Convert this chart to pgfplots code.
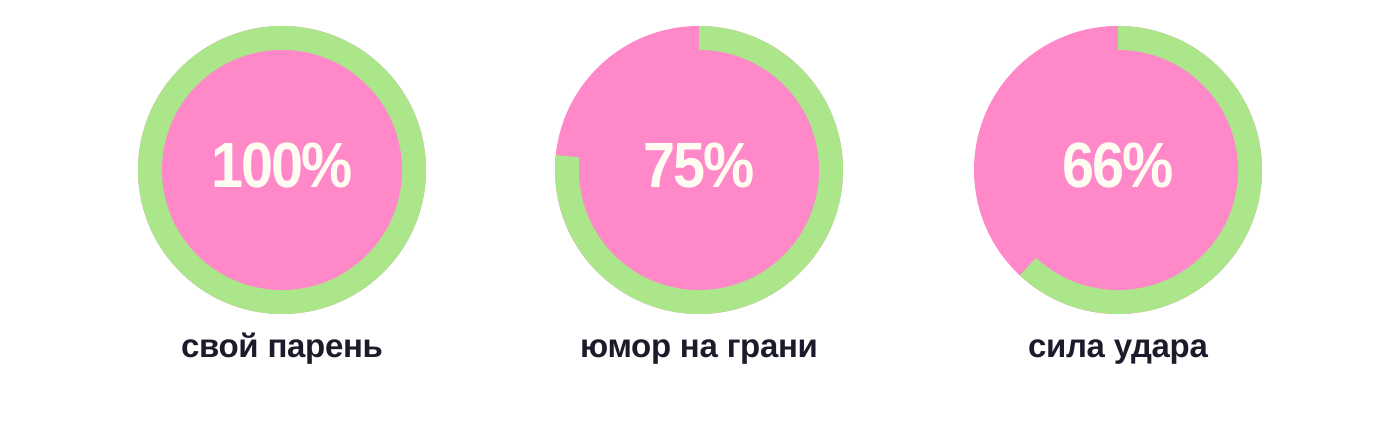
\documentclass[border=0pt]{standalone}
\usepackage{pgfplots}
\pgfplotsset{compat=1.18}
\usepackage{pgfplotstable}
\usepackage{fontspec}
\setmainfont{Liberation Sans}
\newfontfamily\numfont{Liberation Sans}[FakeStretch=0.9,LetterSpace=-3]
\newfontfamily\labfont{Liberation Sans}[LetterSpace=-1]

\definecolor{ringgreen}{HTML}{ABE68A}
\definecolor{discpink}{HTML}{FF88C8}
\definecolor{numcream}{HTML}{FFFCF2}
\definecolor{labelink}{HTML}{1C1B2B}

% x = centre (px), pct = printed value, sweep = drawn arc (deg)
\pgfplotstableread[col sep=comma]{
x,pct,sweep,label
282,100,360,свой парень
699,75,276,юмор на грани
1118,66,223,сила удара
}\gauges

\tikzset{
  pctlabel/.style={anchor=base, text=numcream,
    font=\numfont\bfseries\fontsize{64}{64}\selectfont},
  namelabel/.style={anchor=base, text=labelink,
    font=\labfont\bfseries\fontsize{33}{33}\selectfont},
}

\begin{document}
\begin{tikzpicture}
\begin{axis}[
    x=1pt, y=1pt,
    xmin=0, xmax=1398, ymin=0, ymax=438,
    axis lines=none,
    scale only axis,
    clip=false,
]
% keep the full canvas in the bounding box
\path (axis cs:0,0) rectangle (axis cs:1398,438);
\pgfplotsinvokeforeach{0,1,2}{
  \pgfplotstablegetelem{#1}{x}\of\gauges \let\gx\pgfplotsretval
  \pgfplotstablegetelem{#1}{pct}\of\gauges \let\gp\pgfplotsretval
  \pgfplotstablegetelem{#1}{sweep}\of\gauges \let\gs\pgfplotsretval
  \pgfplotstablegetelem{#1}{label}\of\gauges \let\gl\pgfplotsretval
  \pgfmathsetmacro{\gend}{90-\gs}
  \edef\temp{
    \noexpand\fill[discpink] (axis cs:\gx,268) circle[radius=144pt];
    \noexpand\fill[ringgreen] (axis cs:\gx,268) -- ++(90:144pt)
        arc[start angle=90, end angle=\gend, radius=144pt] -- cycle;
    \noexpand\fill[discpink] (axis cs:\gx,268) circle[radius=120pt];
    \noexpand\node[pctlabel] at (axis cs:\gx,250) {\gp\noexpand\%};
    \noexpand\node[namelabel] at (axis cs:\gx,80) {\gl};
  }
  \temp
}
\end{axis}
\end{tikzpicture}
\end{document}
